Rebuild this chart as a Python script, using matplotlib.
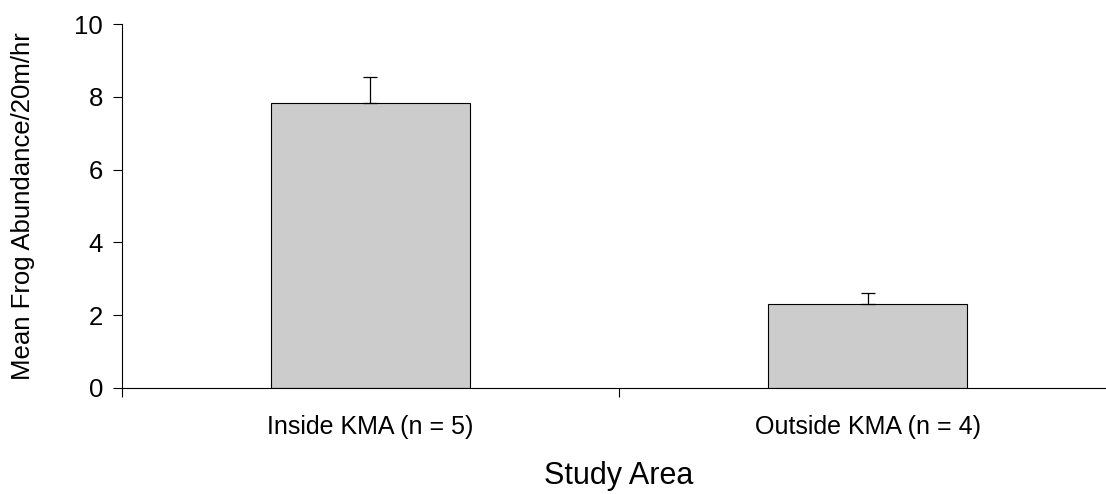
import matplotlib
matplotlib.use("Agg")
from matplotlib import pyplot as plt

areas = ["Inside KMA (n = 5)", "Outside KMA (n = 4)"]
mean_abundance = [7.82, 2.30]
std_error = [0.72, 0.32]

plt.rcParams['font.family'] = ['Liberation Sans', 'DejaVu Sans']

fig = plt.figure(figsize=(11.06, 4.94), dpi=100)
ax = fig.add_axes([0.110, 0.2146, 0.8996, 0.7368])

x = list(range(len(areas)))
ax.bar(x, mean_abundance, width=0.4, color="#cccccc", edgecolor="black", linewidth=0.8, zorder=2)
ax.errorbar(x, mean_abundance, yerr=[[0] * len(x), std_error], fmt="none",
            ecolor="black", elinewidth=0.9, capsize=5, capthick=0.9, zorder=3)

ax.set_xlim(-0.5, 1.5)
ax.set_ylim(0, 10)
ax.set_yticks([0, 2, 4, 6, 8, 10])
ax.tick_params(axis="y", labelsize=18.5, length=6.5, width=0.8, pad=7)

# tick marks between categories, labels under bar centres
ax.set_xticks([-0.5, 0.5, 1.5])
ax.set_xticklabels([])
ax.set_xticks(x, minor=True)
ax.set_xticklabels(areas, minor=True)
ax.tick_params(axis="x", which="major", length=6.5, width=0.8)
ax.tick_params(axis="x", which="minor", length=0, labelsize=18, pad=19.5)

ax.spines["top"].set_visible(False)
ax.spines["right"].set_visible(False)
ax.spines["left"].set_linewidth(0.8)
ax.spines["bottom"].set_linewidth(0.8)

ax.set_ylabel("Mean Frog Abundance/20m/hr", fontsize=18.5, va="center")
ax.yaxis.set_label_coords(-0.0992, 0.5)
ax.set_xlabel("Study Area", fontsize=22, va="baseline")
ax.xaxis.set_label_coords(0.5, -0.2637)

fig.savefig("out.png", dpi=100)
